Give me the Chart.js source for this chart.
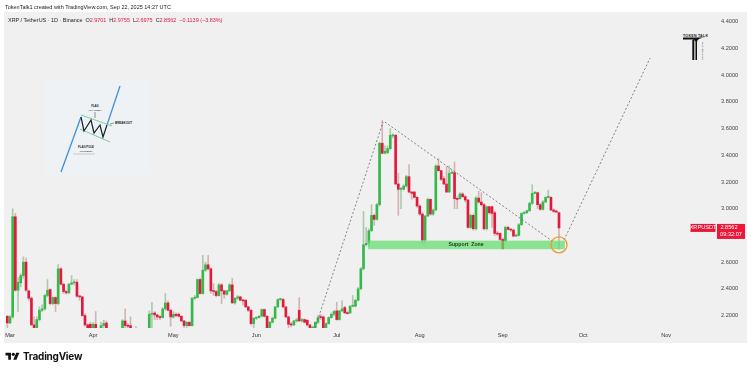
<!DOCTYPE html>
<html>
<head>
<meta charset="utf-8">
<script src="https://cdn.jsdelivr.net/npm/chart.js@4"></script>
<style>
  html, body { margin: 0; padding: 0; background: #fff; }
  #wrap { position: relative; width: 752px; height: 370px; overflow: hidden; font-family: "Liberation Sans", sans-serif; }
  #panel { position: absolute; left: 4px; top: 12px; width: 743px; height: 331px; background: #f0f0f0; }
  #inset { position: absolute; left: 0; top: 0; }
  canvas { position: absolute; left: 0; top: 0; }
  #credit { position: absolute; left: 5px; top: 3px; font-size: 5.5px; line-height: 8px; color: #222; white-space: pre; }
  #legend { position: absolute; left: 8px; top: 16px; font-size: 5.45px; line-height: 8px; color: #222; white-space: pre; }
  #legend b { font-weight: normal; color: #e2193c; }
  #brand { position: absolute; left: 23px; top: 349px; font-size: 10px; line-height: 14px; font-weight: bold; color: #111; font-family: Inter, sans-serif; letter-spacing: -.25px; }
</style>
</head>
<body>
<div id="wrap">
  <div id="panel"></div>
  <svg id="inset" width="752" height="370" font-family="Liberation Sans" fill="#222">
    <rect x="45" y="80" width="105" height="95" fill="#eef2f5"/>
    <line x1="61" y1="172" x2="81" y2="117" stroke="#3f8fd8" stroke-width="1.3"/>
    <line x1="107" y1="125" x2="120" y2="86" stroke="#3f8fd8" stroke-width="1.3"/>
    <line x1="81" y1="115" x2="112" y2="126" stroke="#7fcf9a" stroke-width="1"/>
    <line x1="80" y1="129" x2="110" y2="142" stroke="#7fcf9a" stroke-width="1"/>
    <polyline points="81,117 84,131 91,120 94,133 100,125 103,137 107,125" fill="none" stroke="#14202e" stroke-width="1.2"/>
    <line x1="95" y1="112" x2="95" y2="118" stroke="#333" stroke-width=".5"/>
    <line x1="110" y1="124" x2="114" y2="123" stroke="#333" stroke-width=".5"/>
    <line x1="73" y1="154" x2="95" y2="154" stroke="#999" stroke-width=".5"/>
    <text x="95" y="107" font-size="2.8" font-weight="bold" text-anchor="middle">FLAG</text>
    <text x="95" y="111" font-size="2.4" text-anchor="middle">(CHANNEL)</text>
    <text x="115" y="124" font-size="3" font-weight="bold">BREAKOUT</text>
    <text x="86" y="148" font-size="2.8" font-weight="bold" text-anchor="middle">FLAG POLE</text>
    <text x="86" y="152" font-size="2.4" text-anchor="middle">(UPTREND)</text>
    <text x="695.5" y="36.5" font-size="3.6" font-weight="bold" text-anchor="middle" textLength="25">TOKEN TALK</text>
    <path d="M683 37.5H705Q697 38 697 42V60H695.5V42Q695.5 40 692 39.5H683Z" fill="#111"/>
    <rect x="692.3" y="40" width="2" height="20" fill="#111"/>
    <text transform="translate(701.5,42) rotate(90)" font-size="2.4">MASTERCLASS</text>
    <g transform="translate(5.5,352) scale(.39)" fill="#111">
      <path d="M14 20H7V9H0V2h14zM28 20h-8l7.5-18h8z"/><circle cx="20" cy="6" r="4"/>
    </g>
  </svg>
  <canvas id="chart" width="752" height="370"></canvas>
  <div id="credit">TokenTalk1 created with TradingView.com, Sep 22, 2025 14:27 UTC</div>
  <div id="legend">XRP / TetherUS · 1D · Binance  O<b>2.9701</b>  H<b>2.9755</b>  L<b>2.6975</b>  C<b>2.8562</b>  <b>−0.1139 (−3.83%)</b></div>
  <div id="brand">TradingView</div>
</div>
<script>
// day 0 = Mar 1 2025, first candle is Feb 28
const firstDay = -1;
const monthDays = [0, 31, 61, 92, 122, 153, 184, 214, 245];
const monthNames = ['Mar', 'Apr', 'May', 'Jun', 'Jul', 'Aug', 'Sep', 'Oct', 'Nov'];
const priceTicks = [2.2, 2.4, 2.6, 2.8, 3.0, 3.2, 3.4, 3.6, 3.8, 4.0, 4.2, 4.4];

const opens = [
  2.195,2.145,2.19,2.94,2.39,2.445,2.50,2.60,2.385,2.33,
  2.13,2.09,2.17,2.24,2.25,2.35,2.395,2.29,2.335,2.29,
  2.55,2.435,2.38,2.37,2.435,2.445,2.45,2.345,2.34,2.20,
  2.13,2.135,2.09,2.135,2.07,2.09,2.125,2.145,2.07,2.05,
  1.90,1.87,1.80,2.09,2.16,2.125,2.125,2.08,2.07,2.05,
  2.06,2.07,2.08,2.09,2.21,2.22,2.205,2.19,2.185,2.25,
  2.295,2.24,2.19,2.21,2.21,2.195,2.16,2.125,2.15,2.125,
  2.33,2.335,2.47,2.365,2.54,2.58,2.55,2.385,2.38,2.35,
  2.43,2.385,2.36,2.385,2.43,2.295,2.33,2.34,2.315,2.315,
  2.265,2.24,2.14,2.18,2.185,2.195,2.245,2.195,2.10,2.15,
  2.18,2.265,2.32,2.32,2.265,2.19,2.135,2.13,2.16,2.24,
  2.16,2.17,2.165,2.13,2.10,2.10,2.15,2.19,2.19,2.10,
  2.14,2.185,2.21,2.235,2.17,2.235,2.26,2.22,2.22,2.27,
  2.27,2.315,2.40,2.55,2.73,2.74,2.835,2.95,2.92,3.03,
  3.49,3.415,3.42,3.45,3.545,3.55,3.185,3.145,3.145,3.17,
  3.24,3.125,3.125,3.085,3.02,2.96,2.765,2.945,3.07,2.96,
  2.99,3.32,3.285,3.225,3.185,3.125,3.265,3.27,3.075,3.075,
  3.11,3.09,3.065,2.86,2.95,2.85,3.08,3.05,3.03,2.85,
  3.015,3.015,2.97,2.815,2.815,2.77,2.76,2.86,2.845,2.84,
  2.795,2.80,2.88,2.965,2.97,2.985,3.04,3.115,3.12,3.03,
  2.995,3.05,3.085,3.085,2.99,2.98,2.9701
];
const closes = [
  2.145,2.19,2.94,2.39,2.45,2.50,2.60,2.39,2.33,2.13,
  2.09,2.17,2.24,2.25,2.35,2.39,2.29,2.335,2.29,2.55,
  2.435,2.38,2.37,2.435,2.445,2.45,2.345,2.34,2.20,2.13,
  2.09,2.09,2.135,2.09,2.04,2.125,2.14,2.09,2.05,1.90,
  1.87,1.80,2.09,2.16,2.125,2.12,2.09,2.05,2.04,2.06,
  2.07,2.08,2.09,2.21,2.215,2.205,2.19,2.185,2.25,2.295,
  2.24,2.19,2.21,2.20,2.195,2.16,2.125,2.15,2.125,2.33,
  2.335,2.47,2.365,2.54,2.58,2.55,2.385,2.38,2.35,2.43,
  2.385,2.36,2.385,2.43,2.295,2.33,2.34,2.315,2.31,2.265,
  2.24,2.14,2.18,2.185,2.195,2.245,2.195,2.10,2.15,2.18,
  2.265,2.32,2.325,2.265,2.19,2.135,2.13,2.16,2.165,2.16,
  2.17,2.15,2.13,2.10,2.105,2.15,2.185,2.185,2.10,2.14,
  2.185,2.21,2.23,2.17,2.235,2.25,2.22,2.215,2.27,2.275,
  2.315,2.40,2.55,2.73,2.74,2.835,2.95,2.92,3.03,3.49,
  3.415,3.43,3.45,3.55,3.55,3.185,3.145,3.15,3.17,3.24,
  3.125,3.115,3.085,3.02,2.96,2.765,2.945,3.07,2.96,2.99,
  3.32,3.285,3.22,3.185,3.125,3.265,3.27,3.075,3.07,3.11,
  3.09,3.065,2.86,2.95,2.85,3.08,3.05,3.03,2.85,3.015,
  2.97,2.965,2.815,2.81,2.77,2.70,2.86,2.845,2.84,2.795,
  2.80,2.88,2.965,2.97,2.985,3.04,3.115,3.12,3.03,2.995,
  3.05,3.085,3.09,2.99,2.98,2.975,2.8562
];
const highs = [
  2.20,2.20,3.00,2.965,2.485,2.515,2.64,2.63,2.39,2.34,
  2.19,2.19,2.265,2.28,2.36,2.47,2.40,2.34,2.34,2.585,
  2.56,2.44,2.39,2.44,2.50,2.47,2.47,2.35,2.345,2.215,
  2.14,2.15,2.15,2.23,2.09,2.15,2.165,2.16,2.09,2.06,
  1.98,1.95,2.09,2.17,2.25,2.14,2.19,2.10,2.12,2.09,
  2.09,2.10,2.105,2.235,2.30,2.23,2.21,2.20,2.26,2.365,
  2.31,2.25,2.23,2.22,2.22,2.20,2.165,2.155,2.155,2.335,
  2.35,2.475,2.48,2.65,2.60,2.65,2.56,2.44,2.39,2.44,
  2.44,2.39,2.39,2.44,2.48,2.335,2.35,2.345,2.32,2.32,
  2.27,2.245,2.185,2.19,2.20,2.25,2.25,2.20,2.155,2.19,
  2.27,2.325,2.33,2.33,2.27,2.195,2.15,2.165,2.18,2.335,
  2.18,2.175,2.17,2.135,2.12,2.155,2.20,2.21,2.20,2.145,
  2.19,2.22,2.24,2.30,2.24,2.31,2.27,2.23,2.275,2.35,
  2.32,2.41,2.56,2.98,2.86,2.85,3.03,2.96,3.04,3.50,
  3.66,3.47,3.47,3.60,3.56,3.555,3.265,3.16,3.18,3.25,
  3.33,3.13,3.13,3.09,3.03,2.97,2.95,3.08,3.075,3.00,
  3.33,3.375,3.29,3.24,3.315,3.32,3.29,3.35,3.09,3.12,
  3.12,3.10,3.07,2.96,2.96,3.09,3.13,3.12,3.04,3.02,
  3.02,3.02,2.98,2.83,2.82,2.78,2.87,2.87,2.85,2.85,
  2.81,2.89,2.97,2.98,2.99,3.05,3.18,3.13,3.125,3.04,
  3.06,3.09,3.14,3.09,3.00,2.99,2.9755
];
const lows = [
  2.10,2.14,2.18,2.38,2.23,2.415,2.48,2.38,2.315,2.13,
  2.07,2.05,2.16,2.23,2.24,2.34,2.28,2.28,2.23,2.28,
  2.43,2.365,2.36,2.365,2.43,2.43,2.335,2.315,2.195,2.12,
  2.05,2.06,2.06,2.05,2.01,2.07,2.11,2.06,2.02,1.85,
  1.75,1.70,1.78,2.04,2.10,2.08,2.06,2.02,2.03,2.02,
  2.03,2.04,2.06,2.08,2.09,2.17,2.17,2.17,2.18,2.24,
  2.235,2.12,2.18,2.19,2.19,2.155,2.11,2.11,2.12,2.12,
  2.32,2.33,2.36,2.36,2.53,2.54,2.365,2.35,2.34,2.345,
  2.29,2.33,2.35,2.38,2.29,2.285,2.32,2.31,2.28,2.26,
  2.23,2.13,2.10,2.17,2.18,2.19,2.19,2.07,2.08,2.145,
  2.175,2.26,2.31,2.26,2.185,2.10,2.115,2.125,2.15,2.155,
  2.15,2.145,2.12,2.09,2.08,2.09,2.14,2.17,2.09,2.09,
  2.135,2.18,2.20,2.165,2.165,2.23,2.215,2.21,2.215,2.265,
  2.265,2.31,2.395,2.54,2.72,2.72,2.83,2.875,2.915,3.02,
  3.41,3.41,3.41,3.44,3.53,3.18,2.95,3.00,3.14,3.16,
  3.12,3.07,3.08,3.01,2.95,2.74,2.74,2.94,2.95,2.95,
  2.985,3.28,3.21,3.18,3.12,3.12,3.26,3.00,3.00,3.07,
  3.085,3.05,2.855,2.85,2.84,2.84,3.04,3.02,2.84,2.84,
  2.96,2.86,2.80,2.80,2.76,2.70,2.755,2.84,2.83,2.79,
  2.79,2.795,2.875,2.96,2.965,2.98,3.03,3.11,3.00,2.99,
  2.99,3.045,3.08,2.985,2.97,2.97,2.6975
];

// drawn trend lines, [day, price]
const poleLine = [[113.9, 2.107], [139.3, 3.649]];
const flagLine = [[140, 3.649], [202.4, 2.759]];
const targetLine = [[206.9, 2.766], [239, 4.128]];
const supportDays = [133.7, 207.2];
const supportPrices = [2.697, 2.761];
const circleSpot = [205, 2.729];
const lastClose = 2.8562;
const countdown = '09:32:07';

const upColor = '#36b94a'; const downColor = '#e2193c';
const days = opens.map((_, i) => i + firstDay);
const isUp = i => closes[i] >= opens[i];

const trendSet = pts => ({
  type: 'line', data: pts.map(p => ({x: p[0], y: p[1]})), borderColor: '#6a6a6a', borderWidth: .8,
  borderDash: [2, 2], pointRadius: 0, order: 0, clip: false
});

const overlays = {
  id: 'overlays',
  afterDatasetsDraw(chart) {
    const {ctx, scales: {x, y}} = chart;
    ctx.save();
    // support zone
    const left = x.getPixelForValue(supportDays[0]); const right = x.getPixelForValue(supportDays[1]);
    const top = y.getPixelForValue(supportPrices[1]); const bottom = y.getPixelForValue(supportPrices[0]);
    ctx.fillStyle = 'rgba(98,222,108,.72)'; ctx.fillRect(left, top, right - left, bottom - top);
    ctx.fillStyle = '#1d3a22'; ctx.font = 'bold 5.2px "Liberation Sans"'; ctx.textAlign = 'center'; ctx.textBaseline = 'middle';
    ctx.fillText('Support  Zone', x.getPixelForValue(170.3), (top + bottom) / 2);
    // circle round the last candle
    ctx.strokeStyle = '#ee9a2c'; ctx.lineWidth = 1.3; ctx.beginPath();
    ctx.arc(x.getPixelForValue(circleSpot[0]), y.getPixelForValue(circleSpot[1]), 8, 0, Math.PI * 2); ctx.stroke();
    // price tag
    const py = y.getPixelForValue(lastClose);
    ctx.fillStyle = '#ea1738';
    ctx.fillRect(690.5, py - 4, 25, 8); ctx.fillRect(717, py - 4, 28, 15);
    ctx.fillStyle = '#fff'; ctx.font = '5.6px "Liberation Sans"'; ctx.textAlign = 'center';
    ctx.fillText('XRPUSDT', 703, py);
    ctx.fillText(lastClose.toFixed(4), 729, py); ctx.fillText(countdown, 731, py + 7);
    ctx.restore();
  }
};

new Chart(document.getElementById('chart'), {
  data: {
    datasets: [
      trendSet(poleLine), trendSet(flagLine), trendSet(targetLine),
      { type: 'bar', label: 'wick', grouped: false, order: 2, barThickness: 1,
        data: days.map((d, i) => ({x: d, y: [lows[i], highs[i]]})),
        backgroundColor: c => isUp(c.dataIndex) ? 'rgba(120,170,120,.55)' : 'rgba(190,130,130,.55)' },
      { type: 'bar', label: 'body', grouped: false, order: 1, barThickness: 2, minBarLength: 1,
        data: days.map((d, i) => ({x: d, y: [opens[i], closes[i]]})),
        backgroundColor: c => isUp(c.dataIndex) ? upColor : downColor }
    ]
  },
  options: {
    responsive: false, animation: false,
    layout: { padding: { left: 4, right: 0, top: 12, bottom: 28 } },
    plugins: { legend: { display: false }, tooltip: { enabled: false } },
    scales: {
      x: { type: 'linear', offset: false, min: -2.24, max: 264, grid: { display: false, drawTicks: false, offset: false }, border: { display: false },
        afterBuildTicks: s => { s.ticks = monthDays.map(v => ({value: v})); },
        afterFit: s => { s.height = 14; },
        ticks: { autoSkip: false, maxRotation: 0, padding: 4, color: '#333', font: { size: 5.6, family: 'Liberation Sans' },
          callback: v => monthNames[monthDays.indexOf(v)] } },
      y: { position: 'right', min: 2.107, max: 4.4726, grid: { display: false, drawTicks: false }, border: { display: false },
        afterBuildTicks: s => { s.ticks = priceTicks.map(v => ({value: v})); },
        afterFit: s => { s.width = 35; },
        ticks: { padding: 4, color: '#444', font: { size: 5.6, family: 'Liberation Sans' },
          callback: v => v === 2.8 ? '' : v.toFixed(4) } }
    }
  },
  plugins: [overlays]
});
</script>
</body>
</html>
